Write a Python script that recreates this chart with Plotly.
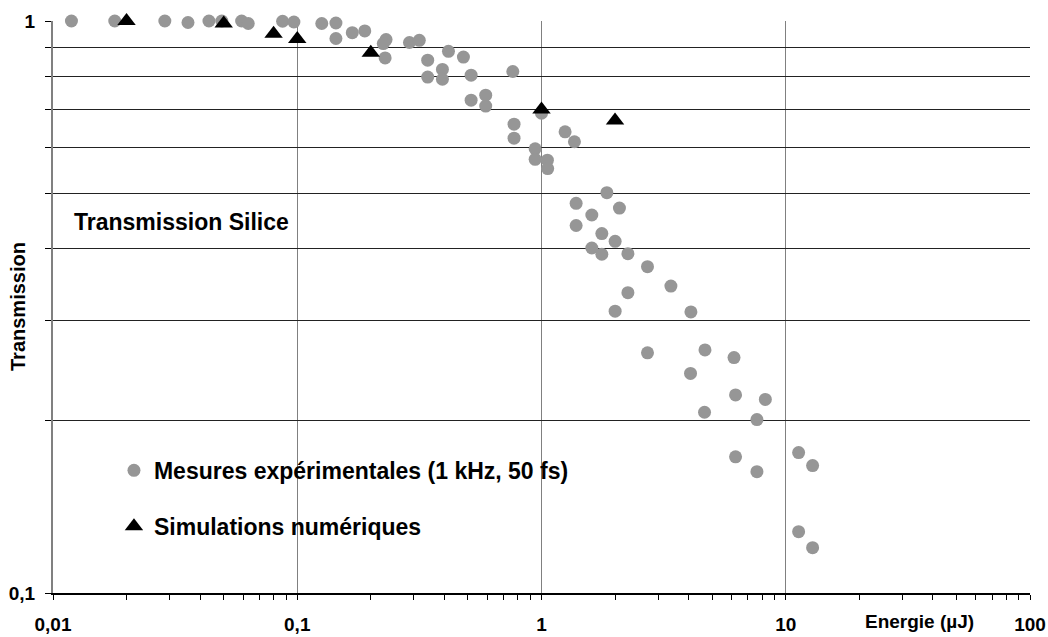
import plotly.graph_objects as go

# Measured points (Energie in µJ, Transmission)
energie_mesures = [0.0119, 0.0179, 0.0287, 0.0357, 0.0435, 0.0491, 0.0592, 0.063, 0.0871, 0.0969,
                   0.126, 0.144, 0.144, 0.168, 0.189, 0.231, 0.225, 0.229, 0.288, 0.316,
                   0.342, 0.342, 0.393, 0.393, 0.416, 0.479, 0.515, 0.515, 0.591, 0.591,
                   0.763, 0.772, 0.772, 0.942, 0.942, 1.0, 1.057, 1.06, 1.249, 1.364,
                   1.852, 1.386, 2.085, 1.607, 1.386, 1.766, 2.002, 1.607, 1.766, 2.258,
                   2.716, 3.387, 2.258, 2.002, 4.09, 2.716, 4.67, 6.14, 4.075, 6.23,
                   8.25, 4.65, 7.62, 6.23, 7.62, 11.29, 12.88, 11.29, 12.88]
transmission_mesures = [1.0, 1.0, 1.0, 0.994, 1.0, 1.0, 1.0, 0.99, 0.999, 0.996,
                        0.99, 0.992, 0.932, 0.954, 0.961, 0.928, 0.913, 0.862, 0.917, 0.925,
                        0.854, 0.798, 0.823, 0.791, 0.885, 0.865, 0.804, 0.727, 0.742, 0.710,
                        0.816, 0.660, 0.624, 0.598, 0.573, 0.69, 0.571, 0.552, 0.640, 0.615,
                        0.501, 0.480, 0.471, 0.458, 0.439, 0.425, 0.412, 0.401, 0.391, 0.392,
                        0.372, 0.344, 0.335, 0.311, 0.310, 0.263, 0.266, 0.258, 0.242, 0.222,
                        0.218, 0.207, 0.201, 0.173, 0.163, 0.176, 0.167, 0.128, 0.120]

# Numerical simulations
energie_simul = [0.02, 0.05, 0.08, 0.1, 0.2, 1.0, 2.0]
transmission_simul = [1.0, 0.99, 0.95, 0.93, 0.88, 0.70, 0.67]

# Axis ticks
x_major = [0.01, 0.1, 1, 10, 100]
x_major_text = ["0,01", "0,1", "1", "10", "100"]
x_minor = [m * d for d in [0.01, 0.1, 1, 10] for m in range(2, 10)]
y_ticks = [0.1, 0.2, 0.3, 0.4, 0.5, 0.6, 0.7, 0.8, 0.9, 1.0]
y_ticktext = ["0,1", "", "", "", "", "", "", "", "", "1"]

FONT = "Liberation Sans, Arial, sans-serif"

fig = go.Figure()
fig.add_trace(go.Scatter(
    x=energie_mesures, y=transmission_mesures, mode="markers",
    name="<b>Mesures expérimentales (1 kHz, 50 fs)</b>", legendgroup="a",
    marker=dict(symbol="circle", size=13, color="#969696", line=dict(width=0)),
    cliponaxis=False,
))
fig.add_trace(go.Scatter(
    x=energie_simul, y=transmission_simul, mode="markers",
    name="<b>Simulations numériques</b>", legendgroup="b",
    marker=dict(symbol="triangle-up", size=16, color="black", line=dict(width=0)),
    cliponaxis=False,
))

fig.update_layout(
    width=1048, height=637,
    margin=dict(l=53, r=18, t=21, b=44, autoexpand=False),
    paper_bgcolor="white", plot_bgcolor="white",
    font=dict(family=FONT, color="black"),
    showlegend=True,
    legend=dict(x=0.0624, xanchor="left", y=0.252, yanchor="top",
                font=dict(family=FONT, size=23, color="black"),
                tracegroupgap=23, traceorder="grouped",
                bgcolor="rgba(0,0,0,0)", itemwidth=30),
    xaxis=dict(type="log", range=[-2, 2], automargin=False,
               tickmode="array", tickvals=x_major, ticktext=x_major_text,
               ticks="outside", ticklen=5, tickcolor="black", tickwidth=1,
               ticklabelstandoff=8,
               tickfont=dict(family=FONT, size=19, color="black", weight="bold"),
               showgrid=True, gridcolor="#808080", gridwidth=1,
               showline=True, linecolor="black", linewidth=2,
               minor=dict(tickvals=x_minor, ticks="outside", ticklen=5,
                          tickcolor="black", tickwidth=1, showgrid=False),
               zeroline=False, fixedrange=True),
    yaxis=dict(type="log", range=[-1, 0], automargin=False,
               tickmode="array", tickvals=y_ticks, ticktext=y_ticktext,
               ticks="outside", ticklen=6, tickcolor="black", tickwidth=1,
               ticklabelstandoff=6,
               tickfont=dict(family=FONT, size=19, color="black", weight="bold"),
               showgrid=True, gridcolor="#222222", gridwidth=1,
               showline=True, linecolor="#808080", linewidth=2,
               zeroline=False, fixedrange=True),
    annotations=[
        dict(text="<b>Transmission Silice</b>", xref="paper", yref="paper",
             x=0.0194, y=0.6486, xanchor="left", yanchor="middle", showarrow=False,
             font=dict(family=FONT, size=23, color="black")),
        dict(text="<b>Energie (µJ)</b>", xref="paper", yref="paper",
             x=0.887, y=0, yshift=-28, xanchor="center", yanchor="middle", showarrow=False,
             font=dict(family=FONT, size=19, color="black")),
        dict(text="<b>Transmission</b>", xref="paper", yref="paper",
             x=0, xshift=-35, y=0.5, xanchor="center", yanchor="middle", showarrow=False,
             textangle=-90, font=dict(family=FONT, size=20, color="black")),
    ],
)

fig.write_html("out.html")
